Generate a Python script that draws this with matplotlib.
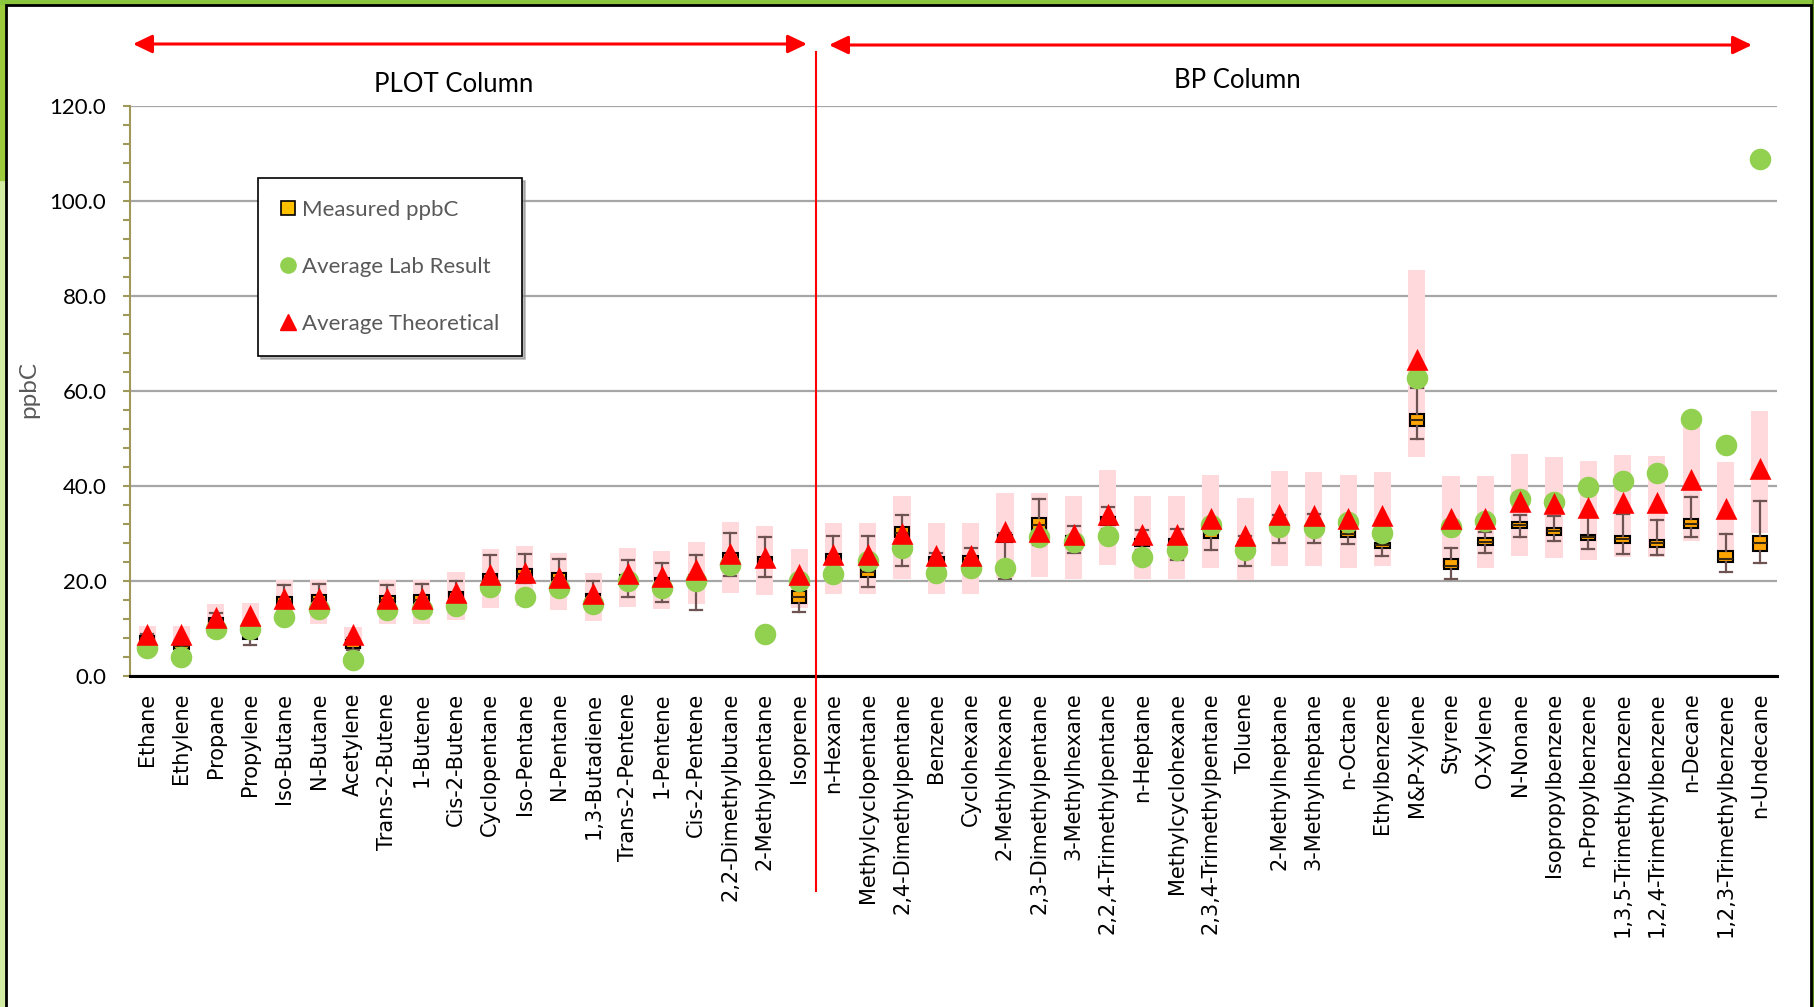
import matplotlib.pyplot as plt
from matplotlib.lines import Line2D
from matplotlib.patches import Rectangle
from matplotlib.path import Path
from matplotlib.ticker import MultipleLocator, FormatStrFormatter

plot_compounds = [
    'Ethane', 'Ethylene', 'Propane', 'Propylene', 'Iso-Butane', 'N-Butane',
    'Acetylene', 'Trans-2-Butene', '1-Butene', 'Cis-2-Butene', 'Cyclopentane',
    'Iso-Pentane', 'N-Pentane', '1,3-Butadiene', 'Trans-2-Pentene', '1-Pentene',
    'Cis-2-Pentene', '2,2-Dimethylbutane', '2-Methylpentane', 'Isoprene',
]
bp_compounds = [
    'n-Hexane', 'Methylcyclopentane', '2,4-Dimethylpentane', 'Benzene',
    'Cyclohexane', '2-Methylhexane', '2,3-Dimethylpentane', '3-Methylhexane',
    '2,2,4-Trimethylpentane', 'n-Heptane', 'Methylcyclohexane',
    '2,3,4-Trimethylpentane', 'Toluene', '2-Methylheptane', '3-Methylheptane',
    'n-Octane', 'Ethylbenzene', 'M&P-Xylene', 'Styrene', 'O-Xylene', 'N-Nonane',
    'Isopropylbenzene', 'n-Propylbenzene', '1,3,5-Trimethylbenzene',
    '1,2,4-Trimethylbenzene', 'n-Decane', '1,2,3-Trimethylbenzene', 'n-Undecane',
]
compounds = plot_compounds + bp_compounds

# ppbC
theoretical = [
    8.1, 8.1, 11.6, 11.9, 15.6, 15.6, 8.0, 15.6, 15.6, 16.9,
    20.6, 21.0, 20.0, 16.6, 20.8, 20.3, 21.7, 25.0, 24.3, 20.6,
    24.8, 24.8, 29.2, 24.7, 24.7, 29.6, 29.7, 29.1, 33.3, 29.1,
    29.1, 32.5, 28.9, 33.2, 33.1, 32.5, 33.1, 65.8, 32.4, 32.4,
    36.0, 35.5, 34.8, 35.8, 35.7, 40.6, 34.6, 42.9,
]
lab_average = [
    6.0, 4.0, 10.0, 10.0, 12.4, 14.2, 3.4, 14.0, 14.2, 14.7,
    18.7, 16.6, 18.5, 15.2, 19.9, 18.5, 19.9, 23.4, 8.8, 20.0,
    21.5, 24.2, 26.9, 21.6, 22.8, 22.8, 29.3, 28.3, 29.4, 25.1,
    26.6, 31.8, 26.5, 31.4, 31.2, 32.5, 30.2, 62.8, 31.4, 32.7,
    37.3, 36.6, 39.8, 41.1, 42.8, 54.2, 48.7, 108.8,
]
measured_median = [
    8.0, 6.3, 11.5, 8.8, 15.7, 16.2, 6.7, 15.9, 16.0, 16.8,
    20.5, 21.5, 20.7, 16.5, 20.5, 19.9, 20.5, 25.0, 24.2, 16.6,
    24.7, 21.9, 30.2, 24.3, 24.3, 29.0, 31.8, 28.6, 32.5, 28.0,
    28.0, 29.9, 27.5, 31.0, 31.0, 30.0, 27.5, 53.9, 23.2, 28.3,
    31.8, 30.5, 29.2, 28.8, 27.9, 32.1, 24.6, 27.9,
]
measured_q1 = [
    7.5, 5.6, 10.8, 7.8, 14.8, 15.2, 5.8, 15.0, 15.2, 15.8,
    19.5, 20.5, 19.8, 15.8, 19.8, 19.2, 19.8, 24.0, 23.2, 15.4,
    23.8, 20.8, 29.2, 23.6, 23.6, 28.3, 30.5, 28.0, 31.8, 27.3,
    27.3, 29.0, 26.8, 30.3, 30.3, 29.2, 26.9, 52.6, 22.5, 27.6,
    31.2, 29.7, 28.6, 27.9, 27.2, 31.1, 23.9, 26.3,
]
measured_q3 = [
    8.5, 7.0, 12.2, 9.7, 16.7, 17.1, 7.5, 16.8, 17.0, 17.7,
    21.5, 22.5, 21.7, 17.3, 21.2, 20.6, 21.3, 25.8, 25.1, 17.9,
    25.6, 23.0, 31.3, 25.0, 25.2, 29.7, 33.2, 29.4, 33.4, 28.8,
    28.8, 30.7, 28.2, 31.7, 31.7, 30.9, 28.1, 55.1, 24.6, 29.0,
    32.4, 31.2, 29.7, 29.5, 28.6, 33.1, 26.3, 29.5,
]
measured_low = [
    7.2, 5.4, 10.0, 6.5, 14.0, 14.5, 5.5, 14.5, 14.5, 15.0,
    18.5, 19.5, 18.5, 15.0, 16.7, 15.6, 13.8, 21.0, 20.8, 13.5,
    22.0, 18.7, 23.2, 23.0, 23.0, 20.5, 27.5, 25.8, 31.0, 26.5,
    24.4, 26.5, 23.2, 27.9, 27.9, 27.7, 25.3, 49.8, 20.4, 25.8,
    29.2, 28.4, 26.7, 25.7, 25.4, 29.2, 22.0, 23.7,
]
measured_high = [
    8.8, 7.5, 13.2, 11.5, 19.1, 19.4, 8.0, 19.1, 19.3, 20.1,
    25.4, 25.7, 24.6, 19.9, 24.5, 23.8, 25.5, 30.2, 29.2, 19.5,
    29.5, 29.5, 33.8, 25.8, 26.9, 30.2, 37.3, 31.5, 35.6, 30.7,
    30.9, 32.5, 29.5, 34.0, 34.2, 32.5, 30.0, 60.6, 27.0, 30.4,
    34.0, 33.7, 33.5, 34.2, 32.8, 37.7, 30.0, 36.9,
]

# acceptance band around the theoretical value
TOLERANCE = 0.30

W, H = 1815, 1007
fig = plt.figure(figsize=(W / 100, H / 100), dpi=100)
ax = fig.add_axes([130 / W, 1 - 676 / H, (1777 - 130) / W, (676 - 106) / H])

x = list(range(len(compounds)))

ax.bar(x, [2 * TOLERANCE * t for t in theoretical],
       bottom=[(1 - TOLERANCE) * t for t in theoretical],
       width=0.5, color='#FFD9DC', zorder=1)

stats = [dict(med=m, q1=a, q3=b, whislo=lo, whishi=hi, fliers=[])
         for m, a, b, lo, hi in zip(measured_median, measured_q1, measured_q3,
                                    measured_low, measured_high)]
whisker_color = '#6E5353'
ax.bxp(stats, positions=x, widths=0.42, capwidths=0.35, patch_artist=True,
       showfliers=False, manage_ticks=False, zorder=3,
       boxprops=dict(facecolor='#FFA500', edgecolor='black', linewidth=1.5),
       medianprops=dict(color='#3B2A10', linewidth=1.5),
       whiskerprops=dict(color=whisker_color, linewidth=1.6),
       capprops=dict(color=whisker_color, linewidth=1.6))

ax.plot(x, lab_average, 'o', ms=15.5, color='#92D050', mec='none', zorder=4)

# triangle with its centroid on the data point
tri = Path([(0, 1), (-0.75, -0.5), (0.75, -0.5), (0, 1)],
           [Path.MOVETO, Path.LINETO, Path.LINETO, Path.CLOSEPOLY])
ax.plot(x, theoretical, ls='none', marker=tri, ms=21, color='#FF0000',
        mec='none', zorder=5)

ax.set_xlim(-0.5, len(compounds) - 0.5)
ax.set_ylim(0, 120)

olive = '#A0975A'
ax.yaxis.set_major_locator(MultipleLocator(20))
ax.yaxis.set_minor_locator(MultipleLocator(4))
ax.yaxis.set_major_formatter(FormatStrFormatter('%.1f'))
ax.tick_params(axis='y', which='both', color=olive, width=1.5, length=5,
               direction='out', labelsize=16, pad=12)
for lab in ax.get_yticklabels():
    lab.set_family('Lato')

ax.set_xticks(x)
ax.set_xticklabels(compounds, rotation=90, fontsize=15, family='DejaVu Sans')
ax.tick_params(axis='x', length=0, pad=12)

ax.grid(axis='y', color='#A6A6A6', lw=1.6)
ax.set_axisbelow(True)
ax.spines['top'].set_visible(False)
ax.spines['right'].set_visible(False)
ax.spines['left'].set_color(olive)
ax.spines['left'].set_linewidth(1.5)
ax.spines['bottom'].set_color('black')
ax.spines['bottom'].set_linewidth(2.2)

# divider between the two column groups
ax.axvline(len(plot_compounds) - 0.5, ymin=(676 - 891) / 570, ymax=(676 - 52) / 570,
           color='#FF0000', lw=1.5, clip_on=False, zorder=6)

arrow = dict(arrowstyle='<|-|>,head_length=0.5,head_width=0.24', color='#FF0000',
             lw=2.2, mutation_scale=23, shrinkA=0, shrinkB=0)
ax.annotate('', xy=(807 / W, 1 - 44 / H), xytext=(133 / W, 1 - 44 / H),
            xycoords='figure fraction', arrowprops=arrow)
ax.annotate('', xy=(1752 / W, 1 - 45 / H), xytext=(829 / W, 1 - 45 / H),
            xycoords='figure fraction', arrowprops=arrow)

fig.text(454 / W, 1 - 85 / H, 'PLOT Column', ha='center', va='center',
         fontsize=18.5, family='Lato')
fig.text(1237 / W, 1 - 81 / H, 'BP Column', ha='center', va='center',
         fontsize=18.5, family='Lato')
fig.text(29 / W, 1 - 390 / H, 'ppbC', rotation=90, ha='center', va='center',
         fontsize=17.5, color='#595959', family='Lato')

handles = [
    Line2D([], [], ls='none', marker='s', ms=10, mfc='#FFC000', mec='black', mew=1.2),
    Line2D([], [], ls='none', marker='o', ms=11, color='#92D050'),
    Line2D([], [], ls='none', marker='^', ms=12, color='#FF0000'),
]
leg = ax.legend(handles, ['Measured ppbC', 'Average Lab Result', 'Average Theoretical'],
                loc='upper left', bbox_to_anchor=(258 / W, 1 - 178 / H),
                bbox_transform=fig.transFigure, borderaxespad=0, fancybox=False,
                shadow=dict(color='0.55', alpha=0.6), framealpha=1,
                edgecolor='black', labelspacing=1.65,
                borderpad=1.0, handlelength=0.7, handletextpad=0.3,
                prop=dict(family='Lato', size=16))
leg.get_frame().set_linewidth(1.2)
for t in leg.get_texts():
    t.set_color('#595959')
leg.set_zorder(7)

# slide frame
fig.add_artist(Rectangle((0, 0), 6 / W, 1, transform=fig.transFigure,
                         color='#D3ECA3', zorder=0))
fig.add_artist(Rectangle((0, 1 - 180 / H), 6 / W, 180 / H, transform=fig.transFigure,
                         color='#9CCB3B', zorder=0))
fig.add_artist(Rectangle((0, 1 - 4 / H), 1, 4 / H, transform=fig.transFigure,
                         color='#8CC63F', zorder=0))
fig.add_artist(Rectangle((1812 / W, 0), 3 / W, 1, transform=fig.transFigure,
                         color='#5E8C1F', zorder=0))
fig.add_artist(Rectangle((6.5 / W, -0.01), (1811 - 6.5) / W, 1.01 - 4.5 / H,
                         transform=fig.transFigure, fill=False,
                         edgecolor='black', lw=2, zorder=1))

fig.savefig('out.png', dpi=100)
